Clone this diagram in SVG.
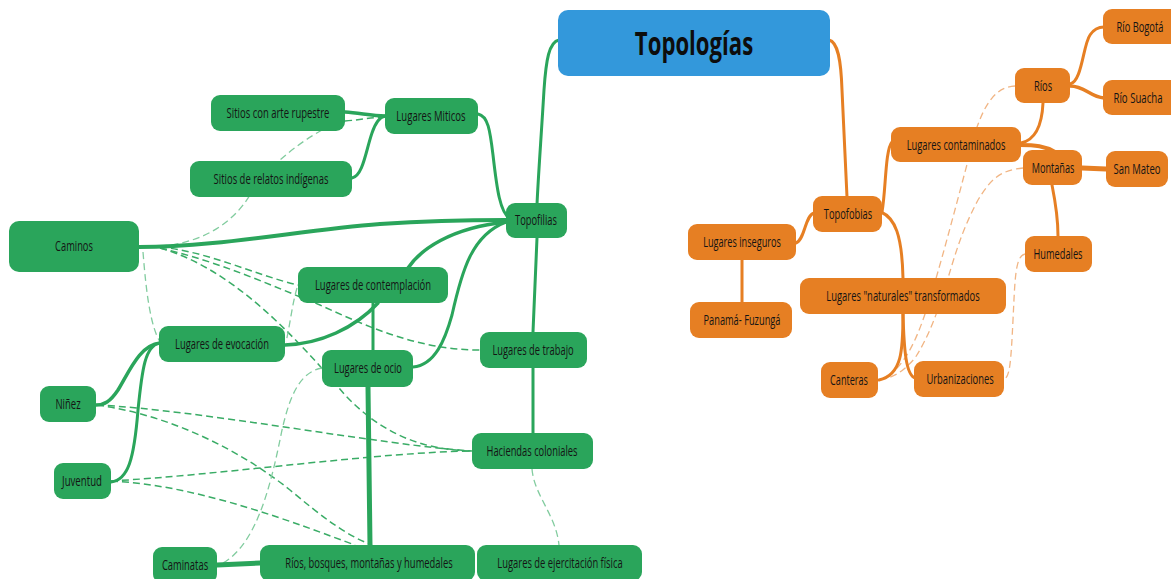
<svg xmlns="http://www.w3.org/2000/svg" width="1171" height="579" viewBox="0 0 1171 579">
<style>
.bg{fill:#ffffff}
.g rect{fill:#2aa55b}
.o rect{fill:#e67f23}
.b rect{fill:#3398db}
text{font-family:"Open Sans","Liberation Sans",sans-serif;font-size:14px;fill:#141414;text-anchor:middle}
.title{font-size:32px;font-weight:bold;fill:#0d0d0d}
.gs{fill:none;stroke:#2aa55b;stroke-width:3;stroke-linecap:round}
.gd{fill:none;stroke:#3aac66;stroke-width:1.5;stroke-dasharray:7 4}
.gl{fill:none;stroke:#82cc9f;stroke-width:1.3;stroke-dasharray:7 4}
.os{fill:none;stroke:#e67f23;stroke-width:3;stroke-linecap:round}
.ol{fill:none;stroke:#f1b584;stroke-width:1.3;stroke-dasharray:7 4}
</style>
<rect class="bg" x="0" y="0" width="1171" height="579"/>
<g id="connectors">
  <path class="gd" d="M345,121 C360,120 372,117 385,117"/>
  <path class="gl" d="M322,130 C295,145 265,170 250,195 C230,228 195,244 160,246"/>
  <path class="gd" d="M160,247 C210,252 255,275 298,285"/>
  <path class="gd" d="M160,248 C220,262 270,285 320,305 C370,328 420,350 480,350"/>
  <path class="gd" d="M160,248 C230,268 290,330 345,395 C380,432 420,450 472,451"/>
  <path class="gl" d="M143,252 C146,290 150,325 160,342"/>
  <path class="gl" d="M297,288 C292,305 290,325 286,342"/>
  <path class="gd" d="M97,405 C200,410 380,445 472,451"/>
  <path class="gd" d="M97,405 C170,415 240,450 290,490 C320,515 345,535 372,545"/>
  <path class="gd" d="M111,481 C220,475 380,452 472,451"/>
  <path class="gd" d="M111,481 C200,485 300,525 355,545"/>
  <path class="gl" d="M322,368 C300,372 290,395 282,430 C270,490 255,550 217,566"/>
  <path class="gl" d="M532,469 C534,495 556,515 559,545"/>
  <path class="gs" d="M559,40 C549,42 546,60 544,90 C541,140 538,180 537,205"/>
  <path class="gs" d="M478,114 C488,116 490,130 493,155 C497,190 500,212 510,219"/>
  <path class="gs" d="M345,112 C360,113 372,116 385,116" style="stroke-width:3.5"/>
  <path class="gs" d="M352,178 C363,176 366,150 372,133 C376,121 380,117 385,116"/>
  <path class="gs" d="M139,247 C220,247 300,230 380,224 C440,220 480,220 506,220" style="stroke-width:4"/>
  <path class="gs" d="M408,268 C420,250 450,228 506,222" style="stroke-width:3.5"/>
  <path class="gs" d="M413,367 C435,365 445,340 452,315 C462,270 472,235 506,222"/>
  <path class="gs" d="M285,345 C320,344 355,328 378,303" style="stroke-width:3.5"/>
  <path class="gs" d="M373,303 L373,350"/>
  <path class="gs" d="M368,387 L370,545" style="stroke-width:5"/>
  <path class="gs" d="M537,238 L533,332"/>
  <path class="gs" d="M533,368 L533,433"/>
  <path class="gs" d="M217,565 L260,563" style="stroke-width:5"/>
  <path class="gs" d="M160,343 C140,345 130,370 118,390 C110,402 104,405 96,405" style="stroke-width:3.5"/>
  <path class="gs" d="M160,343 C145,345 142,370 138,410 C134,460 128,480 111,482"/>
  <path class="ol" d="M1015,86 C995,87 985,105 977,127 C968,160 950,230 937,275 C928,305 920,335 905,358 C895,372 888,378 878,380"/>
  <path class="ol" d="M1023,168 C1000,170 990,180 978,200 C962,230 955,255 948,278 C940,305 930,335 915,358 C903,372 893,378 878,380"/>
  <path class="ol" d="M1025,254 C1015,256 1015,280 1013,320 C1011,360 1010,378 1004,379"/>
  <path class="os" d="M829,40 C838,42 841,60 842,90 C844,140 846,170 847,197"/>
  <path class="os" d="M796,243 C805,240 805,215 814,213"/>
  <path class="os" d="M742,260 L742,302"/>
  <path class="os" d="M882,212 C886,190 885,150 892,142"/>
  <path class="os" d="M881,212 C895,218 902,235 903,278"/>
  <path class="os" d="M903,314 C903,350 902,375 879,380"/>
  <path class="os" d="M903,314 C904,350 906,375 915,378"/>
  <path class="os" d="M1021,143 C1035,140 1042,125 1043,103"/>
  <path class="os" d="M1020,145 C1035,145 1045,146 1055,152" style="stroke-width:4"/>
  <path class="os" d="M1070,84 C1082,82 1083,45 1090,35 C1094,29 1098,27 1104,27"/>
  <path class="os" d="M1070,86 C1085,86 1090,97 1104,98" style="stroke-width:3.5"/>
  <path class="os" d="M1082,168 L1106,169" style="stroke-width:5"/>
  <path class="os" d="M1052,185 C1055,200 1058,215 1058,236"/>
</g>

<g id="topologias" class="b"><rect x="558" y="10" width="272" height="66" rx="10"/><text class="title" transform="translate(694,55) scale(0.7,1)" textLength="169" lengthAdjust="spacingAndGlyphs">Topologías</text></g>

<g id="rupestre" class="g"><rect x="211" y="95" width="134" height="36" rx="9"/><text transform="translate(278,118) scale(0.7,1)" textLength="147" lengthAdjust="spacingAndGlyphs">Sitios con arte rupestre</text></g>
<g id="miticos" class="g"><rect x="385" y="98" width="93" height="36" rx="9"/><text transform="translate(431,121) scale(0.7,1)" textLength="99" lengthAdjust="spacingAndGlyphs">Lugares Miticos</text></g>
<g id="relatos" class="g"><rect x="190" y="161" width="162" height="36" rx="9"/><text transform="translate(271,184) scale(0.7,1)" textLength="164" lengthAdjust="spacingAndGlyphs">Sitios de relatos indígenas</text></g>
<g id="caminos" class="g"><rect x="9" y="221" width="130" height="51" rx="10"/><text transform="translate(74,251) scale(0.7,1)" textLength="54" lengthAdjust="spacingAndGlyphs">Caminos</text></g>
<g id="topofilias" class="g"><rect x="506" y="203" width="61" height="35" rx="9"/><text transform="translate(536,225) scale(0.7,1)" textLength="60" lengthAdjust="spacingAndGlyphs">Topofilias</text></g>
<g id="contemplacion" class="g"><rect x="298" y="267" width="150" height="36" rx="9"/><text transform="translate(373,290) scale(0.7,1)" textLength="166" lengthAdjust="spacingAndGlyphs">Lugares de contemplación</text></g>
<g id="evocacion" class="g"><rect x="159" y="326" width="126" height="36" rx="9"/><text transform="translate(222,349) scale(0.7,1)" textLength="134" lengthAdjust="spacingAndGlyphs">Lugares de evocación</text></g>
<g id="ocio" class="g"><rect x="322" y="350" width="91" height="37" rx="9"/><text transform="translate(368,373) scale(0.7,1)" textLength="97" lengthAdjust="spacingAndGlyphs">Lugares de ocio</text></g>
<g id="trabajo" class="g"><rect x="480" y="332" width="107" height="36" rx="9"/><text transform="translate(533,355) scale(0.7,1)" textLength="116" lengthAdjust="spacingAndGlyphs">Lugares de trabajo</text></g>
<g id="ninez" class="g"><rect x="40" y="386" width="56" height="36" rx="9"/><text transform="translate(68,409) scale(0.7,1)" textLength="36" lengthAdjust="spacingAndGlyphs">Niñez</text></g>
<g id="haciendas" class="g"><rect x="472" y="433" width="121" height="36" rx="9"/><text transform="translate(532,456) scale(0.7,1)" textLength="130" lengthAdjust="spacingAndGlyphs">Haciendas coloniales</text></g>
<g id="juventud" class="g"><rect x="54" y="463" width="57" height="36" rx="9"/><text transform="translate(82,486) scale(0.7,1)" textLength="57" lengthAdjust="spacingAndGlyphs">Juventud</text></g>
<g id="caminatas" class="g"><rect x="153" y="547" width="64" height="36" rx="9"/><text transform="translate(185,570) scale(0.7,1)" textLength="66" lengthAdjust="spacingAndGlyphs">Caminatas</text></g>
<g id="rios-bosques" class="g"><rect x="260" y="545" width="215" height="36" rx="9"/><text transform="translate(369,568) scale(0.7,1)" textLength="239" lengthAdjust="spacingAndGlyphs">Ríos, bosques, montañas y humedales</text></g>
<g id="ejercitacion" class="g"><rect x="477" y="545" width="165" height="36" rx="9"/><text transform="translate(560,568) scale(0.7,1)" textLength="179" lengthAdjust="spacingAndGlyphs">Lugares de ejercitación física</text></g>

<g id="topofobias" class="o"><rect x="813" y="196" width="69" height="36" rx="9"/><text transform="translate(848,219) scale(0.7,1)" textLength="69" lengthAdjust="spacingAndGlyphs">Topofobias</text></g>
<g id="inseguros" class="o"><rect x="688" y="224" width="108" height="36" rx="9"/><text transform="translate(742,247) scale(0.7,1)" textLength="111" lengthAdjust="spacingAndGlyphs">Lugares inseguros</text></g>
<g id="panama" class="o"><rect x="690" y="302" width="102" height="36" rx="9"/><text transform="translate(742,325) scale(0.7,1)" textLength="110" lengthAdjust="spacingAndGlyphs">Panamá- Fuzungá</text></g>
<g id="contaminados" class="o"><rect x="891" y="127" width="130" height="35" rx="9"/><text transform="translate(956,150) scale(0.7,1)" textLength="141" lengthAdjust="spacingAndGlyphs">Lugares contaminados</text></g>
<g id="rios" class="o"><rect x="1015" y="68" width="55" height="35" rx="9"/><text transform="translate(1043,91) scale(0.7,1)" textLength="26" lengthAdjust="spacingAndGlyphs">Ríos</text></g>
<g id="rio-bogota" class="o"><rect x="1103" y="9" width="76" height="35" rx="9"/><text transform="translate(1140,32) scale(0.7,1)" textLength="67" lengthAdjust="spacingAndGlyphs">Río Bogotá</text></g>
<g id="rio-suacha" class="o"><rect x="1103" y="80" width="76" height="35" rx="9"/><text transform="translate(1138,103) scale(0.7,1)" textLength="70" lengthAdjust="spacingAndGlyphs">Río Suacha</text></g>
<g id="montanas" class="o"><rect x="1023" y="150" width="59" height="35" rx="9"/><text transform="translate(1053,173) scale(0.7,1)" textLength="61" lengthAdjust="spacingAndGlyphs">Montañas</text></g>
<g id="san-mateo" class="o"><rect x="1106" y="151" width="62" height="36" rx="9"/><text transform="translate(1137,174) scale(0.7,1)" textLength="67" lengthAdjust="spacingAndGlyphs">San Mateo</text></g>
<g id="humedales" class="o"><rect x="1025" y="236" width="67" height="36" rx="9"/><text transform="translate(1058,259) scale(0.7,1)" textLength="70" lengthAdjust="spacingAndGlyphs">Humedales</text></g>
<g id="naturales" class="o"><rect x="800" y="278" width="206" height="36" rx="9"/><text transform="translate(903,301) scale(0.7,1)" textLength="219" lengthAdjust="spacingAndGlyphs">Lugares "naturales" transformados</text></g>
<g id="canteras" class="o"><rect x="821" y="362" width="57" height="36" rx="9"/><text transform="translate(849,385) scale(0.7,1)" textLength="54" lengthAdjust="spacingAndGlyphs">Canteras</text></g>
<g id="urbanizaciones" class="o"><rect x="914" y="361" width="90" height="36" rx="9"/><text transform="translate(960,384) scale(0.7,1)" textLength="96" lengthAdjust="spacingAndGlyphs">Urbanizaciones</text></g>
</svg>
